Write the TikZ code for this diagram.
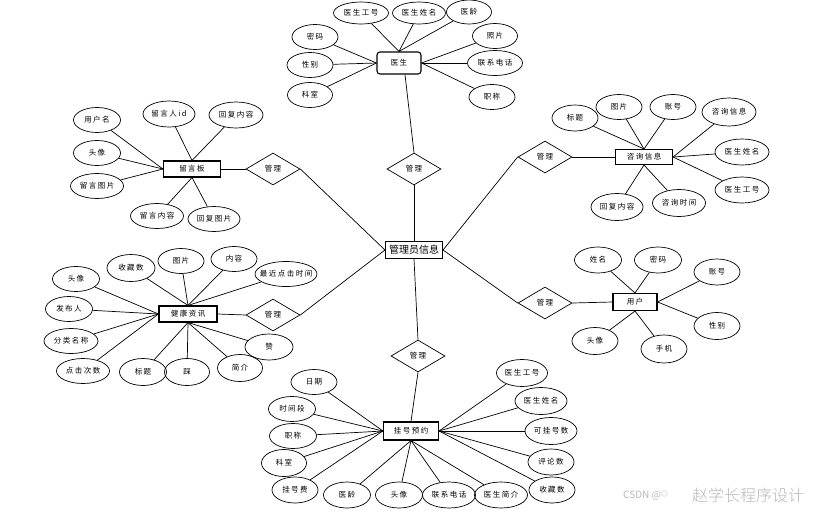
\documentclass[tikz,border=0pt]{standalone}
\usepackage{fontspec}
\newfontfamily\cjk[LetterSpace=20]{Noto Sans CJK SC}
\newfontfamily\cjkb{Noto Sans CJK SC}
\newfontfamily\cjkl{Noto Sans CJK SC Light}
\usetikzlibrary{shapes.geometric}
\newcommand\zt[1]{\makebox[0pt]{#1}}
\tikzset{
  attr/.style={ellipse, draw, line width=0.7pt, inner sep=0pt, minimum width=46, minimum height=25, font=\cjk\fontsize{7.5}{8}\selectfont},
  ent/.style={rectangle, draw, line width=1.1pt, inner sep=0pt, minimum width=57, minimum height=16, font=\cjk\fontsize{7.5}{8}\selectfont},
  rel/.style={diamond, draw, line width=0.7pt, inner sep=0pt, minimum width=54, minimum height=32, font=\cjk\fontsize{7.5}{8}\selectfont},
  lk/.style={line width=0.7pt},
  wmk/.style={text=black!28, inner sep=0pt, anchor=west}
}
\begin{document}
\begin{tikzpicture}[x=1pt,y=-1pt]
\useasboundingbox (0,0) rectangle (815,512);
\fill[white] (0,0) rectangle (815,512);
% center
\node[ent, minimum width=57, minimum height=17, font=\cjkb\fontsize{10}{11}\selectfont] (adm) at (414,250) {\zt{管理员信息}};
% diamonds
\node[rel] (r1) at (414,169) {\zt{管理}};
\node[rel] (r2) at (273,169) {\zt{管理}};
\node[rel] (r3) at (545,157) {\zt{管理}};
\node[rel] (r4) at (273,315) {\zt{管理}};
\node[rel] (r5) at (545,303) {\zt{管理}};
\node[rel] (r6) at (418,356) {\zt{管理}};
\draw[lk] (r1.south) -- (adm.north);
\draw[lk] (r2.east) -- (adm.west);
\draw[lk] (r4.east) -- (adm.west);
\draw[lk] (r3.west) -- (adm.east);
\draw[lk] (r5.west) -- (adm.east);
\draw[lk] (adm.south) -- (r6.north);

% ===== 医生 =====
\node[ent, rounded corners=3pt, minimum width=44, minimum height=22] (doc) at (399,63) {\zt{医生}};
\draw[lk] ([xshift=6pt]doc.south) -- (r1.north);
\node[attr, minimum width=55, minimum height=22] (d1) at (361,13) {\zt{医生工号}};
\node[attr, minimum width=53, minimum height=22] (d2) at (419,13) {\zt{医生姓名}};
\node[attr, minimum width=45, minimum height=24] (d3) at (469,12) {\zt{医龄}};
\node[attr] (d4) at (315,37) {\zt{密码}};
\node[attr] (d5) at (310,65) {\zt{性别}};
\node[attr, minimum width=45] (d6) at (310,95) {\zt{科室}};
\node[attr, minimum width=45] (d7) at (495,36) {\zt{照片}};
\node[attr, minimum width=55] (d8) at (495,63) {\zt{联系电话}};
\node[attr, minimum width=46] (d9) at (492,97) {\zt{职称}};
\foreach \a in {d1,d2,d3} \draw[lk] (doc.north) -- (\a);
\foreach \a in {d4,d5,d6} \draw[lk] (doc.west) -- (\a);
\foreach \a in {d7,d8,d9} \draw[lk] (doc.east) -- (\a);

% ===== 留言板 =====
\node[ent] (ly) at (192,169) {\zt{留言板}};
\draw[lk] (ly.east) -- (r2.west);
\node[attr, minimum width=47] (l1) at (97,120) {\zt{用户名}};
\node[attr, minimum width=52, minimum height=26] (l2) at (169,114) {\zt{留言人id}};
\node[attr, minimum width=54, minimum height=26] (l3) at (236,115) {\zt{回复内容}};
\node[attr, minimum width=47] (l4) at (97,153) {\zt{头像}};
\node[attr, minimum width=53] (l5) at (97,186) {\zt{留言图片}};
\node[attr, minimum width=53] (l6) at (157,216) {\zt{留言内容}};
\node[attr, minimum width=52] (l7) at (214,219) {\zt{回复图片}};
\foreach \a in {l1,l4,l5} \draw[lk] (ly.west) -- (\a);
\foreach \a in {l2,l3} \draw[lk] (ly.north) -- (\a);
\foreach \a in {l6,l7} \draw[lk] (ly.south) -- (\a);

% ===== 咨询信息 =====
\node[ent, minimum height=15] (zx) at (644,157) {\zt{咨询信息}};
\draw[lk] (r3.east) -- (zx.west);
\node[attr, minimum height=26] (z1) at (575,118) {\zt{标题}};
\node[attr] (z2) at (619,107) {\zt{图片}};
\node[attr] (z3) at (673,107) {\zt{账号}};
\node[attr, minimum width=54, minimum height=28] (z4) at (729,112) {\zt{咨询信息}};
\node[attr, minimum width=54, minimum height=26] (z5) at (742,152) {\zt{医生姓名}};
\node[attr, minimum width=54, minimum height=26] (z6) at (742,190) {\zt{医生工号}};
\node[attr, minimum width=52, minimum height=27] (z7) at (617,207) {\zt{回复内容}};
\node[attr, minimum width=53, minimum height=27] (z8) at (679,203) {\zt{咨询时间}};
\foreach \a in {z1,z2,z3} \draw[lk] (zx.north) -- (\a);
\foreach \a in {z4,z5,z6} \draw[lk] (zx.east) -- (\a);
\foreach \a in {z7,z8} \draw[lk] (zx.south) -- (\a);

% ===== 健康资讯 =====
\node[ent, minimum width=58] (jk) at (188,314) {\zt{健康资讯}};
\draw[lk] (jk.east) -- (r4.west);
\node[attr, minimum width=47] (j1) at (76,279) {\zt{头像}};
\node[attr, minimum width=48, minimum height=27] (j2) at (131,268) {\zt{收藏数}};
\node[attr] (j3) at (181,261) {\zt{图片}};
\node[attr] (j4) at (234,259) {\zt{内容}};
\node[attr, minimum width=62] (j5) at (286,274) {\zt{最近点击时间}};
\node[attr, minimum width=47] (j6) at (69,309) {\zt{发布人}};
\node[attr, minimum width=54] (j7) at (71,341) {\zt{分类名称}};
\node[attr, minimum width=53] (j8) at (83,371) {\zt{点击次数}};
\node[attr, minimum width=47, minimum height=27] (j9) at (143,372) {\zt{标题}};
\node[attr, minimum width=45, minimum height=27] (j10) at (187,372) {\zt{踩}};
\node[attr, minimum width=45, minimum height=27] (j11) at (240,368) {\zt{简介}};
\node[attr, minimum width=48, minimum height=26] (j12) at (269,347) {\zt{赞}};
\foreach \a in {j1,j6,j7,j8} \draw[lk] (jk.west) -- (\a);
\foreach \a in {j2,j3,j4,j5} \draw[lk] (jk.north) -- (\a);
\foreach \a in {j9,j10,j11,j12} \draw[lk] (jk.south) -- (\a);

% ===== 用户 =====
\node[ent, minimum width=44, minimum height=17] (yh) at (635,302) {\zt{用户}};
\draw[lk] (r5.east) -- (yh.west);
\node[attr, minimum width=47, minimum height=26] (y1) at (598,260) {\zt{姓名}};
\node[attr, minimum width=47, minimum height=26] (y2) at (658,260) {\zt{密码}};
\node[attr, minimum height=26] (y3) at (717,272) {\zt{账号}};
\node[attr, minimum height=27] (y4) at (717,326) {\zt{性别}};
\node[attr, minimum height=27] (y5) at (595,341) {\zt{头像}};
\node[attr, minimum height=28] (y6) at (664,349) {\zt{手机}};
\foreach \a in {y1,y2} \draw[lk] (yh.north) -- (\a);
\foreach \a in {y3,y4} \draw[lk] (yh.east) -- (\a);
\foreach \a in {y5,y6} \draw[lk] (yh.south) -- (\a);

% ===== 挂号预约 =====
\node[ent, minimum width=55, minimum height=18] (gh) at (411,431) {\zt{挂号预约}};
\draw[lk] (r6.south) -- (gh.north);
\node[attr] (g1) at (314,382) {\zt{日期}};
\node[attr, minimum width=47, minimum height=25] (g2) at (292,409) {\zt{时间段}};
\node[attr, minimum width=47, minimum height=25] (g3) at (293,436) {\zt{职称}};
\node[attr, minimum width=45, minimum height=27] (g4) at (284,463) {\zt{科室}};
\node[attr, minimum width=46, minimum height=26] (g5) at (295,490) {\zt{挂号费}};
\node[attr, minimum width=47, minimum height=26] (g6) at (347,495) {\zt{医龄}};
\node[attr, minimum width=47, minimum height=26] (g7) at (399,495) {\zt{头像}};
\node[attr, minimum width=53, minimum height=26] (g8) at (449,495) {\zt{联系电话}};
\node[attr, minimum width=53, minimum height=26] (g9) at (501,495) {\zt{医生简介}};
\node[attr, minimum width=46, minimum height=26] (g10) at (552,490) {\zt{收藏数}};
\node[attr, minimum width=46, minimum height=26] (g11) at (551,462) {\zt{评论数}};
\node[attr, minimum width=52, minimum height=27] (g12) at (551,431) {\zt{可挂号数}};
\node[attr, minimum width=52, minimum height=27] (g13) at (541,401) {\zt{医生姓名}};
\node[attr, minimum width=51, minimum height=27] (g14) at (522,373) {\zt{医生工号}};
\foreach \a in {g1,g2,g3,g4,g5} \draw[lk] (gh.west) -- (\a);
\foreach \a in {g6,g7,g8,g9} \draw[lk] (gh.south) -- (\a);
\foreach \a in {g10,g11,g12,g13,g14} \draw[lk] (gh.east) -- (\a);

% watermark
\node[wmk] (wm1) at (623,495) {\cjkb\fontsize{10}{11}\selectfont CSDN @\raisebox{2pt}{\fontsize{7}{8}\selectfont ◎}};
\node[wmk] (wm2) at (692,495) {\cjkl\fontsize{16}{17}\selectfont 赵学长程序设计};
\end{tikzpicture}
\end{document}
